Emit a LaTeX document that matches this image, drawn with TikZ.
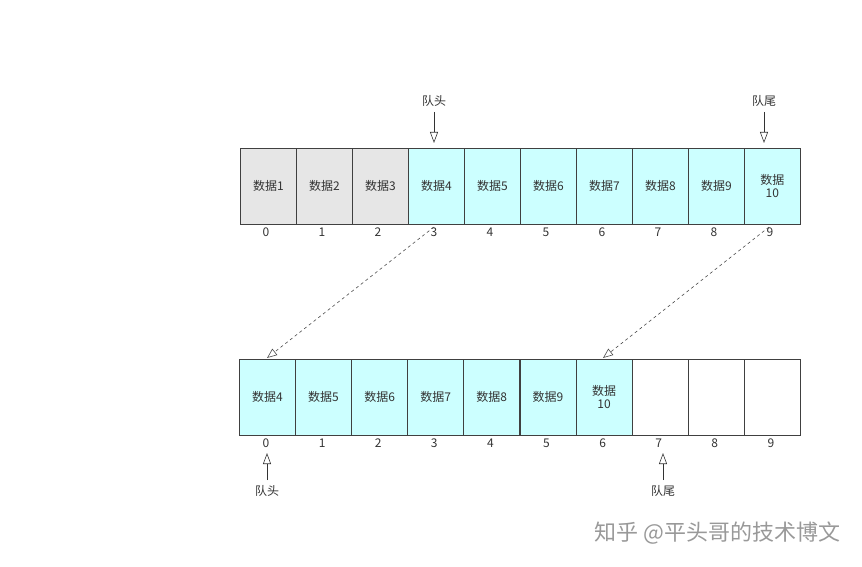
\documentclass[tikz,border=0pt]{standalone}
\usepackage{fontspec}
\setmainfont{Noto Sans CJK SC}
\usetikzlibrary{arrows.meta}
\definecolor{cy}{HTML}{CCFFFF}
\definecolor{gr}{HTML}{E6E6E6}
\begin{document}
\begin{tikzpicture}[x=1pt,y=-1pt,font=\fontsize{12}{13}\selectfont,
 cell/.style={draw=black!75,line width=0.8pt,minimum width=56pt,minimum height=76pt,anchor=north west,inner sep=0pt,align=center,text=black!80},
 idx/.style={text=black!80},
 lbl/.style={text=black!80},
 ptr/.style={draw=black!80,line width=0.6pt,-{Triangle[open,length=11pt,width=8pt]}},
 dashlink/.style={draw=black!70,dashed,line width=0.6pt,-{Triangle[open,length=10pt,width=8pt]}}]
\useasboundingbox (0,0) rectangle (862,567);
% top row
\foreach \i/\t/\c in {0/数据1/gr,1/数据2/gr,2/数据3/gr,3/数据4/cy,4/数据5/cy,5/数据6/cy,6/数据7/cy,7/数据8/cy,8/数据9/cy,9/{数据\\10}/cy}{
  \node[cell,fill=\c] (t\i) at (240+56*\i,148) {\t};
  \node[idx] (ti\i) at (266+56*\i,232) {\i};
}
% bottom row
\foreach \i/\t/\c in {0/数据4/cy,1/数据5/cy,2/数据6/cy,3/数据7/cy,4/数据8/cy,5/数据9/cy,6/{数据\\10}/cy,7//white,8//white,9//white}{
  \node[cell,fill=\c] (b\i) at (239+56.1*\i,359) {\t};
  \node[idx] (bi\i) at (266+56.1*\i,443) {\i};
}
% top pointers
\node[lbl] (th) at (434,101) {队头};
\node[lbl] (tt) at (764,101) {队尾};
\draw[ptr] (434,112) -- (434,143);
\draw[ptr] (764,112) -- (764,143);
% dashed
\coordinate (d1s) at (434,227); \coordinate (d1e) at (267,358);
\coordinate (d2s) at (769,227); \coordinate (d2e) at (603,358);
\draw[dashlink] (d1s) -- (d1e);
\draw[dashlink] (d2s) -- (d2e);
% bottom pointers
\node[lbl] (bh) at (267,491) {队头};
\node[lbl] (bt) at (663,491) {队尾};
\draw[ptr] (267,480) -- (267,453);
\draw[ptr] (663,480) -- (663,453);
% watermark
\node[text=black!40,font=\fontsize{22}{24}\selectfont,anchor=east] (wm) at (844,533) {知乎 @平头哥的技术博文};
\end{tikzpicture}
\end{document}
